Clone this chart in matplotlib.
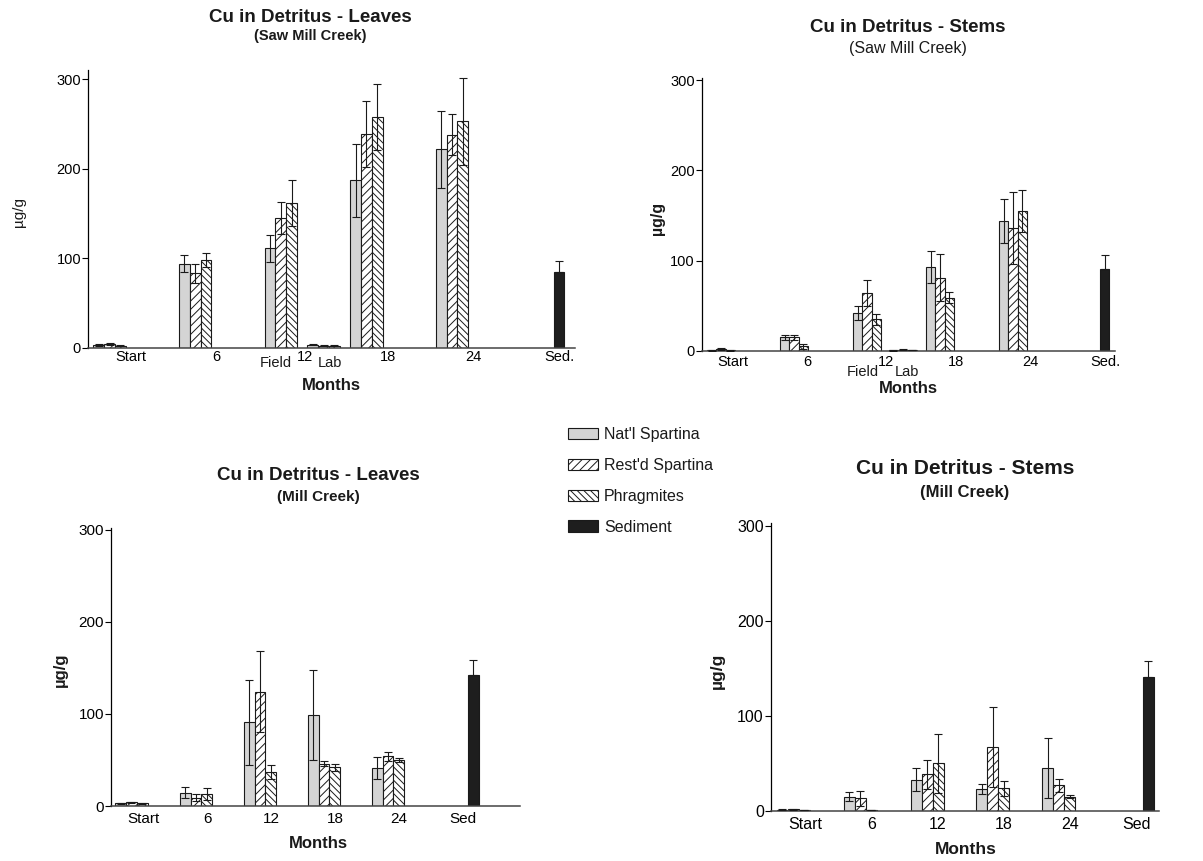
import matplotlib
matplotlib.use("Agg")
import matplotlib.pyplot as plt
from matplotlib.patches import Patch
import numpy as np

plt.rcParams["font.family"] = ["Liberation Sans", "DejaVu Sans"]
plt.rcParams["hatch.linewidth"] = 0.7
plt.rcParams["text.color"] = "#1a1a1a"

W, H = 1203, 861

series = ["Nat'l Spartina", "Rest'd Spartina", "Phragmites", "Sediment"]
tick_labels_top = ["Start", "6", "12", "18", "24", "Sed."]
tick_labels_bottom = ["Start", "6", "12", "18", "24", "Sed"]

# Saw Mill Creek - leaves (groups: Start, 6, 12 Field, 12 Lab, 18, 24)
sml_nat = [3, 94, 111, 3, 187, 222]
sml_nat_err = [0.8, 10, 15, 0.5, 41, 43]
sml_rest = [4, 83, 145, 2, 239, 238]
sml_rest_err = [1, 11, 18, 0.5, 37, 23]
sml_phrag = [2, 98, 162, 2, 258, 253]
sml_phrag_err = [0.8, 7.5, 26, 0.5, 37, 49]
sml_sed, sml_sed_err = 85, 12

# Saw Mill Creek - stems
sms_nat = [1, 15, 42, 1, 93, 144]
sms_nat_err = [0.5, 3, 8, 0.5, 17.5, 24]
sms_rest = [2, 15, 64, 1.5, 81, 136]
sms_rest_err = [1, 3, 14.5, 0.5, 26, 40]
sms_phrag = [1, 5, 35, 1, 59, 155]
sms_phrag_err = [0.5, 2.5, 6.5, 0.3, 6, 23.5]
sms_sed, sms_sed_err = 91, 15

# Mill Creek - leaves (groups: Start, 6, 12, 18, 24)
mcl_nat = [3, 14.5, 91, 99, 41]
mcl_nat_err = [0.5, 6, 46, 49, 12]
mcl_rest = [4, 9, 124, 46, 54]
mcl_rest_err = [0.5, 3.5, 44, 2.7, 5]
mcl_phrag = [3, 13, 37, 42, 50]
mcl_phrag_err = [0.5, 6.5, 8, 3.8, 2]
mcl_sed, mcl_sed_err = 142, 16.5

# Mill Creek - stems
mcs_nat = [1.5, 15, 33, 23, 45]
mcs_nat_err = [0.5, 4.5, 12, 5.5, 31.5]
mcs_rest = [2, 13.5, 38.5, 67.5, 27]
mcs_rest_err = [0.5, 8, 15, 42, 6.5]
mcs_phrag = [1, 1, 50, 24, 15]
mcs_phrag_err = [0.3, 0.3, 31, 8, 1.5]
mcs_sed, mcs_sed_err = 141, 16.5

styles = [
    dict(facecolor="#d4d4d4", hatch=None),
    dict(facecolor="white", hatch="////"),
    dict(facecolor="white", hatch="\\\\\\\\\\"),
    dict(facecolor="#1e1e1e", hatch=None),
]


def px(x, y):
    return x / W, 1 - y / H


def make_axes(left, right, top, bottom, ytop, xlim):
    ax = fig.add_axes([left / W, 1 - bottom / H, (right - left) / W, (bottom - top) / H])
    ax.set_ylim(0, ytop)
    ax.set_xlim(*xlim)
    for s in ["top", "right"]:
        ax.spines[s].set_visible(False)
    ax.spines["left"].set_linewidth(0.9)
    ax.spines["bottom"].set_linewidth(1.1)
    ax.spines["bottom"].set_color("#444444")
    ax.set_yticks([0, 100, 200, 300])
    return ax


def draw_bars(ax, centers, width, groups, sed_x, sed, sed_err):
    centers = np.array(centers)
    for k, (vals, errs) in enumerate(groups):
        x = centers + (k - 1) * width
        ax.bar(x, vals, width=width, edgecolor="#1a1a1a", linewidth=0.8, zorder=2, **styles[k])
        ax.errorbar(x, vals, yerr=errs, fmt="none", ecolor="#1a1a1a",
                    elinewidth=0.8, capsize=3, capthick=0.8, zorder=3)
    ax.bar([sed_x], [sed], width=width, edgecolor="#1a1a1a", linewidth=0.8, zorder=2, **styles[3])
    ax.errorbar([sed_x], [sed], yerr=[[0], [sed_err]], fmt="none", ecolor="#1a1a1a",
                elinewidth=0.8, capsize=3, capthick=0.8, zorder=3)


fig = plt.figure(figsize=(W / 100, H / 100), dpi=100)

# --- top left: leaves, Saw Mill Creek
ax1 = make_axes(88, 575, 70, 347.5, 310.6, (-0.502, 5.187))
draw_bars(ax1, [-0.25, 0.75, 1.75, 2.25, 2.75, 3.75], 0.126,
          [(sml_nat, sml_nat_err), (sml_rest, sml_rest_err), (sml_phrag, sml_phrag_err)],
          5.0, sml_sed, sml_sed_err)
ax1.set_xticks([0, 1, 2.03, 3, 4, 5])
ax1.set_xticklabels(tick_labels_top)
ax1.tick_params(axis="x", length=0, pad=2, labelsize=10.5)
ax1.tick_params(axis="y", length=4, width=0.8, pad=1, labelsize=10.5)
ax1.annotate("Field", (1.69, 0), xycoords=("data", "axes fraction"), xytext=(0, -6),
             textcoords="offset points", ha="center", va="top", fontsize=10.5)
ax1.annotate("Lab", (2.32, 0), xycoords=("data", "axes fraction"), xytext=(0, -6),
             textcoords="offset points", ha="center", va="top", fontsize=10.5)
fig.text(*px(310, 17), "Cu in Detritus - Leaves", ha="center", va="center", fontsize=13.5, fontweight="bold")
fig.text(*px(310, 36), "(Saw Mill Creek)", ha="center", va="center", fontsize=10.5, fontweight="bold")
fig.text(*px(19, 212), "µg/g", ha="center", va="center", rotation=90, fontsize=11)
fig.text(*px(331, 385), "Months", ha="center", va="center", fontsize=12, fontweight="bold")

# --- top right: stems, Saw Mill Creek
ax2 = make_axes(701.7, 1115, 78, 351, 302.3, (-0.42, 5.13))
draw_bars(ax2, [-0.16, 0.82, 1.80, 2.28, 2.78, 3.76], 0.125,
          [(sms_nat, sms_nat_err), (sms_rest, sms_rest_err), (sms_phrag, sms_phrag_err)],
          4.99, sms_sed, sms_sed_err)
ax2.set_xticks([0, 1, 2.05, 3, 4, 5])
ax2.set_xticklabels(tick_labels_top)
ax2.tick_params(axis="x", length=0, pad=3, labelsize=10.5)
ax2.tick_params(axis="y", length=4, width=0.8, pad=1, labelsize=10.5)
ax2.annotate("Field", (1.74, 0), xycoords=("data", "axes fraction"), xytext=(0, -10),
             textcoords="offset points", ha="center", va="top", fontsize=10.5)
ax2.annotate("Lab", (2.33, 0), xycoords=("data", "axes fraction"), xytext=(0, -10),
             textcoords="offset points", ha="center", va="top", fontsize=10.5)
fig.text(*px(908, 27), "Cu in Detritus - Stems", ha="center", va="center", fontsize=13.5, fontweight="bold")
fig.text(*px(908, 48), "(Saw Mill Creek)", ha="center", va="center", fontsize=11.5)
fig.text(*px(658, 218), "µg/g", ha="center", va="center", rotation=90, fontsize=11.5, fontweight="bold")
fig.text(*px(908, 388), "Months", ha="center", va="center", fontsize=12, fontweight="bold")

# --- bottom left: leaves, Mill Creek
ax3 = make_axes(111, 520, 528, 806, 302, (-0.5, 5.89))
draw_bars(ax3, [-0.18, 0.83, 1.83, 2.83, 3.83], 0.167,
          [(mcl_nat, mcl_nat_err), (mcl_rest, mcl_rest_err), (mcl_phrag, mcl_phrag_err)],
          5.16, mcl_sed, mcl_sed_err)
ax3.set_xticks([0, 1, 2, 3, 4, 5])
ax3.set_xticklabels(tick_labels_bottom)
ax3.tick_params(axis="x", length=0, pad=4, labelsize=11)
ax3.tick_params(axis="y", length=4, width=0.8, pad=1, labelsize=11)
fig.text(*px(318, 475), "Cu in Detritus - Leaves", ha="center", va="center", fontsize=13.5, fontweight="bold")
fig.text(*px(318, 497), "(Mill Creek)", ha="center", va="center", fontsize=11, fontweight="bold")
fig.text(*px(60, 670), "µg/g", ha="center", va="center", rotation=90, fontsize=12, fontweight="bold")
fig.text(*px(318, 843), "Months", ha="center", va="center", fontsize=12, fontweight="bold")

# --- bottom right: stems, Mill Creek
ax4 = make_axes(770.7, 1159, 523, 811, 302.8, (-0.52, 5.34))
draw_bars(ax4, [-0.18, 0.83, 1.84, 2.83, 3.83], 0.166,
          [(mcs_nat, mcs_nat_err), (mcs_rest, mcs_rest_err), (mcs_phrag, mcs_phrag_err)],
          5.18, mcs_sed, mcs_sed_err)
ax4.set_xticks([0, 1, 2, 3, 4, 5])
ax4.set_xticklabels(tick_labels_bottom)
ax4.tick_params(axis="x", length=0, pad=4, labelsize=11.5)
ax4.tick_params(axis="y", length=4, width=0.8, pad=1, labelsize=11.5)
fig.text(*px(965, 469), "Cu in Detritus - Stems", ha="center", va="center", fontsize=15, fontweight="bold")
fig.text(*px(965, 492), "(Mill Creek)", ha="center", va="center", fontsize=12, fontweight="bold")
fig.text(*px(717, 671), "µg/g", ha="center", va="center", rotation=90, fontsize=12.5, fontweight="bold")
fig.text(*px(966, 849), "Months", ha="center", va="center", fontsize=12.5, fontweight="bold")

# shared legend
handles = [Patch(edgecolor="#1a1a1a", linewidth=0.8, **st) for st in styles]
fig.legend(handles, series, loc="upper left", bbox_to_anchor=px(568, 427), frameon=False,
           fontsize=11.5, handlelength=1.9, handleheight=0.75, labelspacing=1.0,
           handletextpad=0.35, borderpad=0, borderaxespad=0)

fig.savefig("out.png", dpi=100)
